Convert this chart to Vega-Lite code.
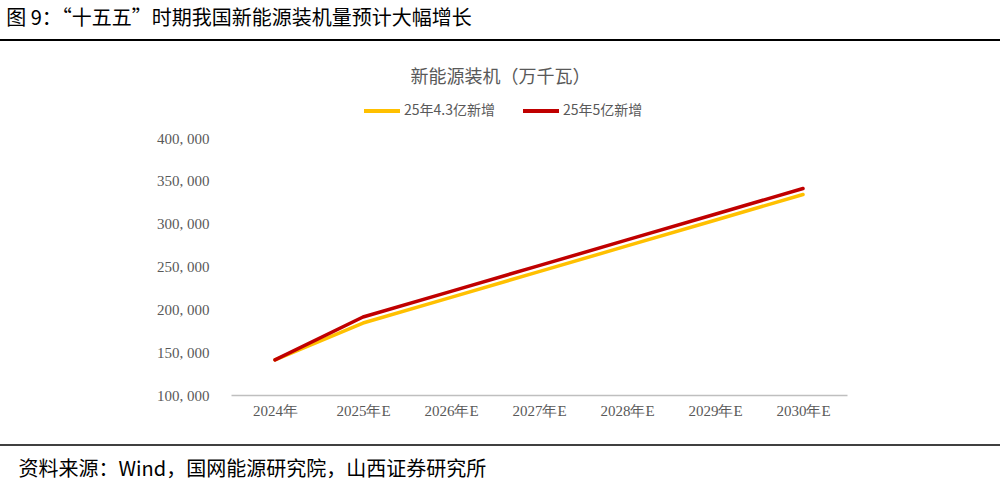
{
  "$schema": "https://vega.github.io/schema/vega-lite/v6.json",
  "autosize": "none",
  "width": 616,
  "height": 257,
  "padding": {"left": 231, "top": 138, "right": 160, "bottom": 91},
  "background": "white",
  "config": {"view": {"stroke": null}, "font": "Noto Sans CJK SC"},
  "title": {
    "text": "图 9：“十五五”时期我国新能源装机量预计大幅增长",
    "anchor": "start",
    "frame": "bounds",
    "dx": 7,
    "offset": 11,
    "fontSize": 20,
    "fontWeight": "normal",
    "color": "#000000",
    "font": "Noto Sans CJK SC"
  },
  "data": {
    "values": [
      {"year": "2024年", "series": "25年4.3亿新增", "value": 141000},
      {"year": "2025年E", "series": "25年4.3亿新增", "value": 184000},
      {"year": "2026年E", "series": "25年4.3亿新增", "value": 214000},
      {"year": "2027年E", "series": "25年4.3亿新增", "value": 244000},
      {"year": "2028年E", "series": "25年4.3亿新增", "value": 274000},
      {"year": "2029年E", "series": "25年4.3亿新增", "value": 304000},
      {"year": "2030年E", "series": "25年4.3亿新增", "value": 334000},
      {"year": "2024年", "series": "25年5亿新增", "value": 141000},
      {"year": "2025年E", "series": "25年5亿新增", "value": 191000},
      {"year": "2026年E", "series": "25年5亿新增", "value": 221000},
      {"year": "2027年E", "series": "25年5亿新增", "value": 251000},
      {"year": "2028年E", "series": "25年5亿新增", "value": 281000},
      {"year": "2029年E", "series": "25年5亿新增", "value": 311000},
      {"year": "2030年E", "series": "25年5亿新增", "value": 341000}
    ]
  },
  "layer": [
    {
      "mark": {"type": "line", "strokeWidth": 3.5, "strokeCap": "round", "strokeJoin": "round"},
      "encoding": {
        "x": {
          "field": "year",
          "type": "ordinal",
          "sort": null,
          "scale": {"type": "point", "padding": 0.5},
          "axis": {
            "title": "资料来源：Wind，国网能源研究院，山西证券研究所",
            "titleX": -213,
            "titleY": 80,
            "titleAlign": "left",
            "titleAnchor": null,
            "titleBaseline": "alphabetic",
            "titleFontSize": 20,
            "titleFontWeight": "normal",
            "titleColor": "#000000",
            "titleFont": "Noto Sans CJK SC",
            "labelAngle": 0,
            "labelFont": "Liberation Serif",
            "labelFontSize": 15,
            "labelColor": "#595959",
            "labelPadding": 8,
            "ticks": false,
            "domainColor": "#BFBFBF",
            "domainWidth": 1.5,
            "grid": false
          }
        },
        "y": {
          "field": "value",
          "type": "quantitative",
          "scale": {"domain": [100000, 400000], "nice": false, "zero": false},
          "axis": {
            "values": [100000, 150000, 200000, 250000, 300000, 350000, 400000],
            "labelExpr": "replace(format(datum.value, ','), ',', ', ')",
            "title": "新能源装机（万千瓦）",
            "titleAngle": 0,
            "titleX": 269,
            "titleY": -56,
            "titleAlign": "center",
            "titleAnchor": null,
            "titleBaseline": "alphabetic",
            "titleFontSize": 18,
            "titleFontWeight": "normal",
            "titleColor": "#595959",
            "titleFont": "Noto Sans CJK SC",
            "labelFont": "Liberation Serif",
            "labelFontSize": 15,
            "labelColor": "#595959",
            "labelPadding": 22,
            "domain": false,
            "ticks": false,
            "grid": false
          }
        },
        "color": {
          "field": "series",
          "type": "nominal",
          "scale": {"domain": ["25年4.3亿新增", "25年5亿新增"], "range": ["#FFC000", "#C00000"]},
          "legend": {
            "title": null,
            "orient": "none",
            "direction": "horizontal",
            "legendX": 131,
            "legendY": -47,
            "symbolType": "stroke",
            "symbolSize": 1296,
            "symbolStrokeWidth": 4,
            "labelFont": "Noto Sans CJK SC",
            "labelFontSize": 14,
            "labelColor": "#595959",
            "labelOffset": 2,
            "columnPadding": 20
          }
        }
      }
    },
    {
      "mark": {"type": "rule", "color": "#000000", "strokeWidth": 1},
      "encoding": {"x": {"value": -231}, "x2": {"value": 769}, "y": {"value": -98}}
    },
    {
      "mark": {"type": "rule", "color": "#404040", "strokeWidth": 1.5},
      "encoding": {"x": {"value": -231}, "x2": {"value": 769}, "y": {"value": 307}}
    }
  ]
}
